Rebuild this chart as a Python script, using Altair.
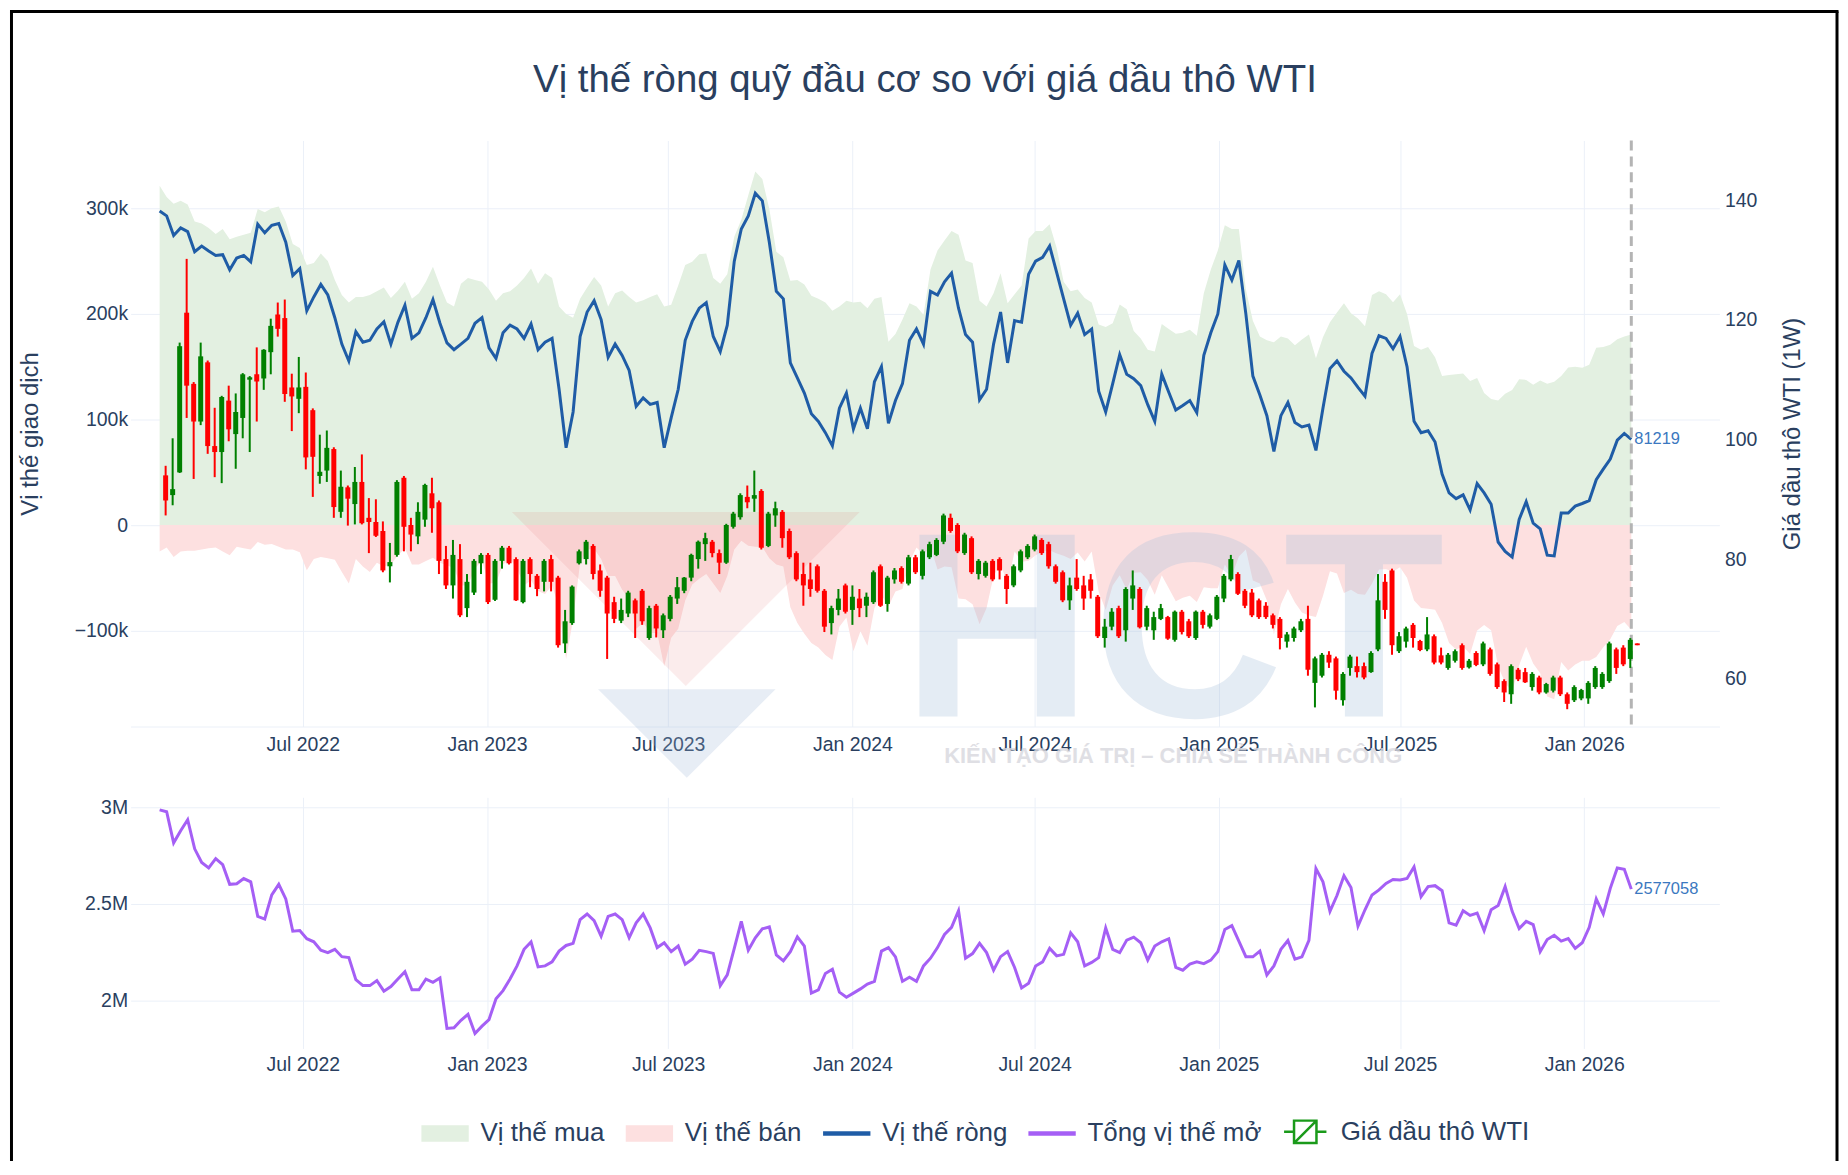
import altair as alt
import pandas as pd

# ---------------- text ----------------
TITLE = "Vị thế ròng quỹ đầu cơ so với giá dầu thô WTI"
LEFT_TITLE = "Vị thế giao dịch"
RIGHT_TITLE = "Giá dầu thô WTI (1W)"
SERIES = ["Vị thế mua", "Vị thế bán", "Vị thế ròng", "Tổng vị thế mở", "Giá dầu thô WTI"]
X_TICKS = [(2022, 7), (2023, 1), (2023, 7), (2024, 1), (2024, 7), (2025, 1), (2025, 7), (2026, 1)]
LEFT_TICKS = [-100000, 0, 100000, 200000, 300000]
RIGHT_TICKS = [60, 80, 100, 120, 140]
OI_TICKS = [2000000, 2500000, 3000000]
POS_START = "2022-02-08"      # weekly COT report dates
CANDLE_START = "2022-02-14"   # weekly candles
LAST_REPORT = "2026-02-17"

# ---------------- weekly positions (thousand contracts) ----------------
net_k = [
    297.5, 292.9, 274.3, 281.4, 277.9, 258.9, 264.3, 259.6, 255.4, 256.1,
    241.8, 252.9, 255.4, 249.3, 285.0, 276.8, 283.9, 285.7, 267.9, 236.4,
    242.9, 202.9, 216.1, 227.9, 217.9, 196.4, 171.4, 155.4, 183.2, 173.2,
    175.0, 185.7, 192.5, 171.4, 192.0, 208.2, 176.8, 182.1, 196.4, 213.6,
    191.1, 172.5, 166.1, 171.4, 176.8, 191.1, 196.4, 167.9, 157.9, 182.1,
    189.3, 185.7, 176.8, 190.4, 166.1, 173.2, 176.8, 128.6, 73.2, 107.1,
    178.6, 201.8, 212.5, 194.6, 158.9, 171.4, 160.7, 146.4, 112.5, 120.5,
    114.3, 116.1, 73.2, 101.8, 128.6, 175.0, 192.9, 205.4, 210.7, 178.6,
    164.3, 189.3, 250.0, 280.4, 292.9, 314.3, 307.1, 267.9, 221.4, 214.3,
    153.6, 139.3, 125.0, 105.4, 98.2, 87.5, 75.0, 110.7, 125.0, 91.1,
    110.7, 91.1, 135.7, 150.0, 96.4, 118.0, 133.9, 175.0, 185.7, 171.4,
    221.4, 217.9, 230.4, 238.6, 205.4, 180.4, 173.2, 118.6, 128.6, 171.4,
    201.8, 153.6, 193.6, 192.1, 237.5, 250.0, 253.6, 264.3, 239.3, 214.3,
    189.3, 200.7, 180.4, 185.7, 126.8, 107.1, 133.9, 161.4, 142.9, 138.6,
    132.0, 114.0, 98.2, 142.9, 125.7, 108.9, 113.2, 117.9, 106.4, 160.7,
    182.1, 200.0, 246.4, 232.1, 250.7, 200.0, 141.1, 123.2, 103.6, 69.6,
    103.6, 116.1, 97.1, 92.9, 94.6, 70.7, 110.7, 148.2, 155.4, 145.7,
    139.3, 130.4, 122.1, 162.5, 179.3, 176.8, 167.0, 178.6, 150.0, 98.2,
    87.5, 89.3, 78.6, 48.2, 30.4, 25.0, 28.6, 14.3, 39.3, 30.4,
    19.6, -16.1, -25.0, -30.4, 5.4, 22.1, 1.8, -3.6, -28.6, -29.3,
    11.4, 11.4, 17.9, 20.4, 23.2, 42.9, 52.9, 62.5, 80.4, 86.8,
    81.219,
]
long_k = [
    321.4, 310.7, 304.3, 307.1, 303.6, 287.5, 285.7, 281.4, 275.7, 280.4,
    270.7, 273.2, 275.0, 276.8, 299.3, 296.4, 300.0, 301.8, 287.5, 266.1,
    262.5, 246.4, 248.2, 257.1, 250.0, 232.1, 217.9, 210.7, 216.1, 216.1,
    217.9, 221.4, 225.0, 215.0, 222.0, 230.4, 214.3, 219.6, 230.4, 244.6,
    226.8, 210.7, 207.1, 228.6, 233.9, 232.1, 230.4, 223.2, 212.5, 219.6,
    221.4, 226.8, 233.9, 242.9, 228.6, 238.6, 233.9, 207.1, 200.0, 196.4,
    214.3, 225.0, 235.0, 226.8, 207.1, 219.6, 222.1, 216.1, 210.7, 213.0,
    216.1, 218.6, 207.1, 208.6, 226.8, 246.4, 249.3, 256.4, 257.1, 233.9,
    228.6, 237.5, 273.2, 289.3, 312.5, 335.0, 327.9, 299.3, 258.9, 253.6,
    231.4, 232.1, 227.9, 217.1, 214.3, 210.7, 202.9, 207.1, 212.5, 210.7,
    211.4, 205.4, 214.3, 216.1, 173.5, 181.0, 194.6, 210.0, 207.1, 199.3,
    242.1, 260.0, 269.6, 278.6, 275.0, 250.7, 248.2, 212.5, 207.1, 219.6,
    238.6, 210.0, 218.6, 226.8, 271.4, 278.6, 278.6, 285.0, 262.5, 230.4,
    221.4, 223.2, 215.0, 210.7, 190.0, 187.5, 191.1, 208.9, 204.3, 183.9,
    176.8, 166.0, 164.3, 190.4, 185.7, 181.1, 182.1, 185.0, 179.3, 219.6,
    242.1, 260.0, 283.9, 280.4, 280.4, 223.2, 193.6, 178.6, 175.0, 173.2,
    178.6, 176.8, 170.4, 175.7, 180.4, 157.9, 177.9, 192.1, 201.4, 210.0,
    200.7, 195.7, 188.2, 217.9, 221.4, 218.6, 211.0, 218.6, 200.0, 169.6,
    166.1, 168.6, 158.9, 141.1, 142.1, 142.9, 143.6, 136.4, 139.3, 125.0,
    119.3, 117.9, 124.3, 127.9, 138.2, 137.5, 132.9, 136.8, 133.9, 135.7,
    141.1, 149.3, 150.0, 148.9, 151.8, 167.9, 168.6, 170.7, 176.1, 178.6,
    180.4,
]
short_k = [
    -25.0, -21.4, -30.4, -25.0, -24.3, -24.3, -23.2, -22.1, -21.4, -25.0,
    -28.6, -20.7, -22.1, -23.2, -16.1, -18.6, -17.9, -20.7, -23.2, -23.2,
    -25.7, -42.9, -32.1, -30.4, -31.4, -32.9, -44.6, -55.4, -32.1, -39.3,
    -44.6, -35.7, -39.3, -37.5, -28.6, -22.2, -37.5, -37.5, -34.0, -31.0,
    -35.7, -38.2, -41.0, -57.2, -57.1, -41.0, -34.0, -55.3, -54.6, -37.5,
    -32.1, -41.1, -57.1, -52.5, -62.5, -65.4, -57.1, -78.5, -126.8, -89.3,
    -35.7, -23.2, -22.5, -32.2, -48.2, -48.2, -61.4, -69.7, -98.2, -92.5,
    -101.8, -102.5, -133.9, -106.8, -98.2, -71.4, -56.4, -51.0, -46.4, -55.3,
    -64.3, -48.2, -23.2, -15.0, -19.6, -20.7, -20.8, -31.4, -37.5, -39.3,
    -77.8, -92.8, -102.9, -111.7, -116.1, -123.2, -127.9, -96.4, -87.5, -119.6,
    -100.7, -114.3, -78.6, -66.1, -77.1, -63.0, -60.7, -35.0, -21.4, -27.9,
    -20.7, -42.1, -39.2, -40.0, -69.6, -70.3, -75.0, -93.9, -78.5, -48.2,
    -36.8, -56.4, -25.0, -34.7, -33.9, -28.6, -25.0, -24.0, -27.0, -29.0,
    -32.1, -26.0, -34.6, -25.0, -63.2, -80.4, -57.2, -47.5, -61.4, -45.3,
    -44.8, -52.0, -66.1, -47.5, -60.0, -72.2, -68.9, -67.1, -72.9, -58.9,
    -60.0, -60.0, -37.5, -48.3, -29.7, -23.2, -52.5, -55.4, -71.4, -103.6,
    -75.0, -60.7, -73.3, -82.8, -85.8, -87.2, -67.2, -43.9, -46.0, -64.3,
    -61.4, -65.3, -66.1, -55.4, -42.1, -41.8, -44.0, -40.0, -50.0, -71.4,
    -78.6, -79.3, -80.3, -92.9, -111.7, -117.9, -115.0, -122.1, -100.0, -94.6,
    -99.7, -134.0, -149.3, -158.3, -132.8, -115.4, -131.1, -140.4, -162.5, -165.0,
    -129.7, -137.9, -132.1, -128.5, -128.6, -125.0, -115.7, -108.2, -95.7, -91.8,
    -99.2,
]
# open interest (million contracts)
oi_m = [
    2.988, 2.978, 2.817, 2.880, 2.937, 2.786, 2.715, 2.687, 2.735, 2.704,
    2.602, 2.605, 2.632, 2.615, 2.436, 2.422, 2.547, 2.602, 2.526, 2.359,
    2.362, 2.320, 2.304, 2.260, 2.248, 2.265, 2.227, 2.222, 2.108, 2.077,
    2.077, 2.103, 2.048, 2.072, 2.111, 2.149, 2.055, 2.055, 2.111, 2.094,
    2.116, 1.855, 1.858, 1.897, 1.928, 1.829, 1.867, 1.901, 2.009, 2.051,
    2.111, 2.179, 2.265, 2.303, 2.174, 2.179, 2.200, 2.256, 2.285, 2.296,
    2.419, 2.448, 2.414, 2.333, 2.436, 2.448, 2.419, 2.325, 2.402, 2.448,
    2.376, 2.274, 2.299, 2.253, 2.282, 2.188, 2.214, 2.260, 2.253, 2.244,
    2.077, 2.133, 2.270, 2.410, 2.260, 2.325, 2.371, 2.381, 2.236, 2.205,
    2.253, 2.330, 2.282, 2.038, 2.055, 2.140, 2.162, 2.043, 2.017, 2.038,
    2.060, 2.085, 2.099, 2.256, 2.274, 2.226, 2.099, 2.120, 2.099, 2.179,
    2.219, 2.274, 2.342, 2.379, 2.465, 2.219, 2.243, 2.296, 2.248, 2.157,
    2.227, 2.253, 2.171, 2.065, 2.089, 2.179, 2.200, 2.270, 2.231, 2.239,
    2.350, 2.304, 2.179, 2.197, 2.222, 2.376, 2.265, 2.248, 2.313, 2.328,
    2.299, 2.209, 2.282, 2.304, 2.320, 2.171, 2.157, 2.188, 2.200, 2.191,
    2.209, 2.253, 2.368, 2.388, 2.308, 2.227, 2.226, 2.256, 2.132, 2.179,
    2.265, 2.311, 2.214, 2.226, 2.311, 2.684, 2.615, 2.462, 2.544, 2.646,
    2.585, 2.385, 2.470, 2.547, 2.573, 2.607, 2.627, 2.624, 2.632, 2.692,
    2.538, 2.590, 2.595, 2.569, 2.402, 2.390, 2.465, 2.441, 2.453, 2.362,
    2.470, 2.492, 2.590, 2.462, 2.373, 2.410, 2.393, 2.253, 2.316, 2.338,
    2.308, 2.321, 2.270, 2.299, 2.379, 2.526, 2.448, 2.581, 2.687, 2.680,
    2.577058,
]

# ---------------- weekly WTI candles (USD) ----------------
c_open = [
    94.0, 90.7, 94.5, 121.2, 109.3, 103.0, 112.9, 98.9, 97.9, 106.5,
    100.9, 103.6, 110.0, 110.9, 110.2, 114.6, 120.9, 120.3, 108.7, 106.8,
    108.8, 104.9, 93.9, 94.8, 98.4, 87.9, 92.0, 89.2, 92.9, 86.9,
    86.2, 84.7, 78.8, 80.7, 93.6, 85.7, 83.8, 86.6, 91.0, 89.5,
    80.0, 75.6, 80.0, 71.8, 74.4, 79.3, 80.7, 73.2, 79.7, 81.9,
    80.0, 72.8, 80.0, 77.2, 76.2, 80.0, 76.9, 65.9, 69.3, 79.3,
    80.0, 82.2, 78.1, 76.9, 72.8, 69.7, 70.9, 73.1, 74.7, 66.8,
    72.2, 68.1, 70.0, 73.4, 74.7, 76.9, 80.0, 82.5, 82.9, 81.0,
    79.4, 85.4, 87.0, 90.4, 90.1, 91.4, 82.2, 87.3, 87.9, 84.7,
    81.0, 77.5, 76.6, 78.8, 74.7, 69.3, 71.5, 75.6, 71.5, 73.4,
    72.2, 72.8, 78.8, 72.5, 76.6, 78.5, 75.9, 80.3, 77.2, 80.3,
    80.7, 82.9, 86.9, 85.7, 81.0, 83.5, 77.5, 77.2, 79.7, 80.0,
    77.2, 75.6, 78.1, 80.3, 81.6, 83.2, 82.5, 78.8, 77.8, 73.1,
    76.9, 75.6, 76.6, 73.7, 66.8, 68.7, 71.8, 68.1, 73.4, 75.0,
    68.7, 68.1, 70.0, 70.3, 66.5, 71.2, 69.6, 66.8, 71.2, 68.7,
    70.0, 73.4, 76.6, 77.5, 74.7, 74.4, 73.1, 72.2, 70.6, 70.0,
    66.2, 66.8, 68.1, 70.0, 59.3, 60.5, 64.0, 63.4, 56.4, 61.8,
    62.1, 62.1, 61.1, 64.9, 76.2, 78.1, 64.6, 66.2, 69.0, 66.3,
    64.9, 67.1, 63.9, 61.8, 63.0, 65.6, 61.9, 64.3, 62.4, 64.9,
    62.4, 59.6, 57.4, 61.5, 61.1, 58.6, 60.2, 57.7, 58.0, 60.2,
    57.4, 56.4, 56.7, 56.7, 58.6, 58.6, 59.6, 64.9, 65.2, 63.3,
    65.9,
]
c_high = [
    95.6, 100.2, 116.2, 130.2, 109.6, 116.2, 113.2, 105.3, 107.3, 109.0,
    107.7, 111.1, 110.6, 115.4, 115.1, 120.2, 122.9, 123.4, 111.0, 113.8,
    111.2, 105.2, 100.8, 101.5, 98.7, 94.8, 92.3, 95.4, 97.5, 90.2,
    90.0, 86.3, 82.7, 93.2, 93.9, 86.9, 89.5, 92.6, 93.6, 89.8,
    82.2, 83.2, 82.5, 77.5, 80.0, 81.0, 81.0, 80.0, 82.2, 82.2,
    80.3, 80.0, 80.3, 77.5, 80.0, 80.7, 77.2, 71.5, 75.6, 81.6,
    83.2, 82.5, 79.1, 77.2, 73.7, 73.4, 74.7, 73.4, 75.0, 72.2,
    72.5, 70.9, 74.0, 77.0, 77.0, 80.9, 83.1, 84.4, 83.2, 81.6,
    85.9, 87.9, 91.0, 92.3, 94.8, 91.7, 87.9, 89.6, 88.2, 85.1,
    81.3, 79.4, 79.4, 79.1, 75.0, 72.2, 75.0, 75.9, 75.6, 75.0,
    74.4, 78.1, 79.1, 77.2, 78.5, 78.8, 80.7, 80.7, 81.6, 82.9,
    83.5, 87.6, 87.6, 86.0, 84.4, 83.8, 80.0, 79.7, 80.0, 80.3,
    77.5, 79.1, 81.6, 82.5, 84.1, 83.5, 82.9, 79.1, 78.1, 76.9,
    80.0, 77.2, 77.5, 74.0, 70.0, 71.8, 72.2, 75.3, 78.1, 75.3,
    72.2, 71.2, 72.5, 70.5, 71.4, 71.5, 70.0, 71.4, 71.5, 70.9,
    74.0, 77.5, 80.7, 77.8, 75.0, 75.0, 73.4, 72.8, 70.9, 70.3,
    67.8, 68.7, 70.0, 72.2, 63.7, 64.3, 64.6, 63.7, 61.1, 64.0,
    63.7, 62.7, 64.6, 77.5, 77.5, 78.4, 67.8, 68.7, 69.3, 66.5,
    70.3, 67.4, 65.2, 64.3, 64.9, 65.9, 63.3, 64.6, 66.2, 65.2,
    62.7, 59.9, 62.4, 61.8, 61.8, 61.1, 60.5, 59.3, 60.5, 60.5,
    57.7, 58.9, 58.3, 59.6, 62.1, 61.1, 66.2, 65.2, 65.6, 66.8,
    65.9,
]
c_low = [
    87.3, 89.0, 94.4, 103.6, 93.4, 102.4, 97.6, 93.7, 92.7, 99.7,
    95.1, 100.2, 97.9, 103.0, 108.3, 110.9, 117.2, 106.3, 101.4, 104.4,
    95.0, 90.4, 92.6, 92.9, 86.9, 86.9, 85.6, 85.8, 85.8, 81.0,
    83.7, 77.8, 76.1, 80.4, 81.3, 81.3, 82.5, 85.4, 84.4, 77.5,
    75.0, 73.4, 70.3, 70.3, 74.0, 77.5, 72.5, 73.0, 78.4, 79.1,
    73.0, 72.6, 75.3, 73.8, 74.6, 74.6, 65.2, 64.3, 69.0, 79.1,
    79.1, 76.6, 73.7, 63.3, 69.3, 69.3, 70.3, 66.8, 69.0, 66.5,
    66.9, 66.8, 69.6, 72.5, 74.3, 76.3, 78.4, 79.7, 80.3, 77.5,
    79.2, 85.1, 86.6, 88.5, 87.9, 81.6, 82.0, 85.4, 81.9, 80.0,
    76.3, 72.2, 73.7, 74.4, 67.8, 67.4, 70.6, 70.9, 69.0, 70.3,
    70.3, 72.5, 72.0, 71.2, 75.9, 75.9, 75.6, 77.5, 76.6, 80.0,
    80.5, 82.5, 84.4, 81.0, 80.7, 77.5, 76.6, 76.9, 76.3, 76.6,
    72.5, 75.3, 77.8, 80.0, 81.3, 80.7, 78.4, 75.9, 72.8, 71.5,
    74.7, 71.5, 73.4, 66.8, 65.2, 68.1, 66.8, 66.2, 71.5, 68.4,
    68.1, 66.5, 69.8, 66.5, 66.2, 67.4, 66.8, 66.5, 68.4, 68.4,
    69.8, 72.8, 76.3, 74.0, 71.8, 70.3, 70.0, 70.0, 68.4, 64.9,
    65.2, 66.2, 67.8, 60.5, 55.2, 60.2, 61.8, 56.5, 55.5, 60.5,
    60.2, 59.9, 61.0, 64.6, 70.0, 64.0, 64.3, 65.2, 65.2, 64.6,
    64.6, 62.4, 62.4, 61.5, 62.7, 61.5, 61.7, 62.1, 62.1, 60.5,
    58.3, 56.1, 55.8, 59.6, 59.3, 58.0, 57.4, 57.5, 57.7, 57.1,
    54.9, 56.1, 56.4, 55.8, 58.3, 58.3, 59.3, 60.8, 62.1, 61.8,
    65.6,
]
c_close = [
    89.8, 91.7, 115.6, 109.0, 103.0, 113.9, 98.9, 97.9, 107.1, 101.7,
    104.6, 110.9, 110.4, 109.7, 115.0, 119.0, 118.5, 107.6, 107.2, 108.7,
    97.0, 97.1, 94.6, 98.6, 88.7, 92.1, 90.1, 92.9, 86.0, 86.2,
    83.9, 78.1, 79.5, 92.9, 85.4, 84.1, 87.9, 92.4, 88.5, 79.7,
    75.6, 80.7, 70.6, 76.2, 79.7, 80.7, 72.8, 79.7, 81.9, 79.3,
    73.1, 79.7, 77.5, 75.0, 79.7, 76.2, 65.6, 69.6, 75.4, 81.3,
    82.9, 77.5, 74.7, 70.9, 70.0, 71.5, 74.4, 70.9, 69.6, 71.8,
    68.4, 70.6, 73.7, 75.3, 76.9, 80.7, 82.9, 83.5, 81.0, 79.4,
    85.7, 87.6, 90.7, 89.5, 90.7, 81.9, 87.6, 88.5, 83.5, 80.3,
    76.6, 75.6, 75.0, 74.7, 68.7, 71.8, 73.4, 71.2, 73.7, 71.8,
    73.7, 77.8, 72.2, 76.9, 78.1, 76.2, 80.3, 77.8, 81.3, 82.5,
    83.2, 87.3, 84.7, 81.3, 84.1, 77.8, 79.7, 79.4, 76.6, 78.1,
    75.0, 78.8, 81.3, 82.2, 83.8, 81.0, 78.8, 76.2, 73.1, 75.6,
    75.0, 73.4, 74.7, 67.1, 68.7, 71.2, 67.1, 75.0, 75.6, 68.6,
    71.8, 70.3, 71.8, 66.7, 71.2, 67.8, 67.1, 71.2, 69.0, 70.6,
    73.7, 77.2, 80.0, 74.2, 72.2, 70.6, 70.3, 70.3, 69.0, 66.8,
    67.4, 68.4, 69.6, 61.5, 63.4, 64.0, 62.7, 58.0, 60.8, 63.7,
    61.1, 60.2, 64.3, 73.1, 71.5, 65.6, 67.1, 68.4, 66.8, 64.8,
    67.4, 62.7, 62.7, 64.0, 64.6, 61.8, 63.0, 62.3, 65.9, 60.8,
    58.6, 57.7, 62.1, 59.9, 59.4, 60.8, 57.7, 59.1, 60.2, 57.4,
    55.8, 58.6, 58.1, 59.3, 61.8, 60.8, 65.9, 61.8, 62.4, 66.5,
    65.6,
]

# ---------------- styling ----------------
FONT = "Liberation Sans, Arial, sans-serif"
TXT = "#2a3f5f"
GRID = "#ebf0f8"
LONG_FILL = "#e3f0e1"
SHORT_FILL = "#fde0e0"
NET_COL = "#1f5ca6"
OI_COL = "#a55ff5"
LABEL_COL = "#3b78c0"
UP = "#008000"
DOWN = "#ff0000"
W = 1594
H_TOP = 588
H_BOT = 252

# ---------------- tables ----------------
n = min(len(net_k), len(long_k), len(short_k), len(oi_m))
pos = pd.DataFrame({
    "date": pd.date_range(POS_START, periods=n, freq="7D"),
    "long": [round(v * 1000) for v in long_k[:n]],
    "short": [round(v * 1000) for v in short_k[:n]],
    "net": [round(v * 1000) for v in net_k[:n]],
    "oi": [round(v * 1e6) for v in oi_m[:n]],
})
pos["net_lbl"] = pos["net"].astype(str)
pos["oi_lbl"] = pos["oi"].astype(str)
last = pos.tail(1)

m = min(len(c_open), len(c_high), len(c_low), len(c_close))
cdl = pd.DataFrame({
    "date": pd.date_range(CANDLE_START, periods=m, freq="7D"),
    "open": c_open[:m], "high": c_high[:m], "low": c_low[:m], "close": c_close[:m],
})
cdl["dir"] = ["up" if c >= o else "down" for o, c in zip(cdl["open"], cdl["close"])]

# ---------------- scales / axes ----------------
x_scale = alt.Scale(domain=[alt.DateTime(year=2022, month=1, date=10),
                            alt.DateTime(year=2026, month=5, date=16)], padding=0)


def x_axis(pad, dom):
    return alt.Axis(values=[alt.DateTime(year=y, month=mo, date=1) for y, mo in X_TICKS],
                    format="%b %Y", title=None, grid=True, gridColor=GRID, ticks=False,
                    labelPadding=pad, domain=dom, domainColor=GRID, labelFontSize=19.5)


X_TOP = alt.X("date:T", scale=x_scale, axis=x_axis(9, True))
X_BOT = alt.X("date:T", scale=x_scale, axis=x_axis(7, False))
SI_LABEL = "datum.value == 0 ? '0' : format(datum.value, '~s')"
yl_scale = alt.Scale(domain=[-190900, 364300], nice=False, zero=False)
yl_axis = alt.Axis(values=LEFT_TICKS, labelExpr=SI_LABEL, title=LEFT_TITLE, grid=True,
                   gridColor=GRID, ticks=False, domain=False, labelPadding=3, titlePadding=32)
yr_scale = alt.Scale(domain=[52, 150], nice=False, zero=False)
yr_axis = alt.Axis(values=RIGHT_TICKS, orient="right", title=RIGHT_TITLE, grid=False, ticks=False,
                   domain=False, labelPadding=5, titlePadding=24, titleAngle=270, titleBaseline="top")
oi_scale = alt.Scale(domain=[1751000, 3053000], nice=False, zero=False)
oi_axis = alt.Axis(values=OI_TICKS, labelExpr=SI_LABEL, title=None, grid=True, gridColor=GRID,
                   ticks=False, domain=False, labelPadding=3)

# ---------------- top panel ----------------
base = alt.Chart(pos)
area_long = base.mark_area(color=LONG_FILL, opacity=1).encode(
    x=X_TOP, y=alt.Y("long:Q", scale=yl_scale, axis=yl_axis), y2=alt.datum(0))
area_short = base.mark_area(color=SHORT_FILL, opacity=1).encode(
    x=X_TOP, y=alt.Y("short:Q", scale=yl_scale, axis=yl_axis), y2=alt.datum(0))

one = pd.DataFrame({"a": [0]})
wm_tri = alt.Chart(one).mark_point(shape="M-1,-0.5L1,-0.5L0,0.5Z", size=121801, filled=True,
                                   color="#e07070", opacity=0.13, strokeWidth=0, clip=False).encode(
    x=alt.value(557), y=alt.value(460))
wm_tri2 = alt.Chart(one).mark_point(shape="M-1,-0.5L1,-0.5L0,0.5Z", size=31684, filled=True,
                                    color="#9fb9d9", opacity=0.25, strokeWidth=0, clip=False).encode(
    x=alt.value(558), y=alt.value(595))
wm_hct = alt.Chart(one).mark_text(text="HCT", fontSize=265, fontWeight="bold", font=FONT,
                                  color="#a9c1dc", opacity=0.3, align="center",
                                  baseline="alphabetic", clip=False).encode(
    x=alt.value(1046), y=alt.value(578))
wm_tag = alt.Chart(one).mark_text(text="KIẾN TẠO GIÁ TRỊ – CHIA SẺ THÀNH CÔNG", fontSize=22,
                                  fontWeight="bold", font=FONT, color="#d8d8de", opacity=0.8,
                                  align="center", baseline="middle", clip=False).encode(
    x=alt.value(1046), y=alt.value(618))

# chart title, centred over the plot area
title_txt = alt.Chart(one).mark_text(text=TITLE, fontSize=38.5, font=FONT, color=TXT,
                                     align="center", baseline="alphabetic", clip=False).encode(
    x=alt.value(W / 2), y=alt.value(-49))

# frame of the screenshot (left, top, right edges)
frame_l = alt.Chart(one).mark_rule(color="black", strokeWidth=3).encode(
    x=alt.value(-119.5), y=alt.value(-129.5), y2=alt.value(1024))
frame_t = alt.Chart(one).mark_rule(color="black", strokeWidth=3).encode(
    x=alt.value(-121), x2=alt.value(1713.5), y=alt.value(-129.5))
frame_r = alt.Chart(one).mark_rule(color="black", strokeWidth=3).encode(
    x=alt.value(1712), y=alt.value(-129.5), y2=alt.value(1024))

net_line = base.mark_line(color=NET_COL, strokeWidth=3).encode(
    x=X_TOP, y=alt.Y("net:Q", scale=yl_scale, axis=yl_axis))
net_lbl = alt.Chart(last).mark_text(align="left", baseline="middle", dx=3, fontSize=16.5,
                                    color=LABEL_COL, font=FONT).encode(
    x=X_TOP, y=alt.Y("net:Q", scale=yl_scale, axis=yl_axis), text="net_lbl:N")
vline = alt.Chart(pd.DataFrame({"date": [pd.Timestamp(LAST_REPORT)]})).mark_rule(
    color="#b4b4b4", strokeWidth=3, strokeDash=[10, 6]).encode(x=X_TOP)

left_layer = alt.layer(area_long, area_short, wm_tri, wm_tri2, wm_hct, wm_tag,
                       net_line, net_lbl, vline, title_txt, frame_l, frame_t, frame_r)

dir_color = alt.Color("dir:N", scale=alt.Scale(domain=["up", "down"], range=[UP, DOWN]), legend=None)
wick = alt.Chart(cdl).mark_rule(strokeWidth=2).encode(
    x=X_TOP, y=alt.Y("low:Q", scale=yr_scale, axis=yr_axis), y2="high:Q", color=dir_color)
body = alt.Chart(cdl).mark_bar(size=5).encode(
    x=X_TOP, y=alt.Y("open:Q", scale=yr_scale, axis=yr_axis), y2="close:Q", color=dir_color)
right_layer = alt.layer(wick, body)

top = alt.layer(left_layer, right_layer).resolve_scale(y="independent").properties(
    width=W, height=H_TOP)

# ---------------- bottom panel ----------------
oi_line = base.mark_line(color=OI_COL, strokeWidth=3).encode(
    x=X_BOT, y=alt.Y("oi:Q", scale=oi_scale, axis=oi_axis))
oi_lbl = alt.Chart(last).mark_text(align="left", baseline="middle", dx=3, fontSize=16.5,
                                   color=LABEL_COL, font=FONT).encode(
    x=X_BOT, y=alt.Y("oi:Q", scale=oi_scale, axis=oi_axis), text="oi_lbl:N")

# legend (entries drawn by the legend itself; the carrier points sit outside the x domain)
SW = "M-0.9,-0.28H0.9V0.28H-0.9Z"
LN = "M-0.9,-0.04H0.9V0.04H-0.9Z"
CD = "M-0.45,-0.45H0.45V0.45H-0.45Z M-0.45,0.45L0.45,-0.45 M-0.85,0H-0.45 M0.45,0H0.85"
leg = alt.Legend(orient="none", legendX=289, legendY=968, direction="horizontal", title=None,
                 labelFontSize=26, labelColor=TXT, labelFont=FONT, symbolSize=2500,
                 symbolStrokeWidth=2.5, labelOffset=9, columnPadding=17, padding=0,
                 labelLimit=500)
legend_src = pd.DataFrame({"name": SERIES, "date": [pd.Timestamp("2021-06-01")] * 5,
                           "v": [2500000] * 5})
legend_pts = alt.Chart(legend_src).mark_point(filled=True, opacity=1, clip=True).encode(
    x=X_BOT, y=alt.Y("v:Q", scale=oi_scale, axis=oi_axis),
    fill=alt.Fill("name:N", scale=alt.Scale(domain=SERIES,
                  range=[LONG_FILL, SHORT_FILL, NET_COL, OI_COL, "transparent"]), legend=leg),
    stroke=alt.Stroke("name:N", scale=alt.Scale(domain=SERIES,
                      range=[LONG_FILL, SHORT_FILL, NET_COL, OI_COL, "#1a9a1a"]), legend=leg),
    shape=alt.Shape("name:N", scale=alt.Scale(domain=SERIES, range=[SW, SW, LN, LN, CD]), legend=leg),
)

bottom = alt.layer(oi_line, oi_lbl, legend_pts).properties(width=W, height=H_BOT)

chart = alt.vconcat(top, bottom, spacing=71, bounds="flush").properties(
    padding={"left": 0, "top": 0, "right": 0, "bottom": 0},
    background="white",
).configure_view(stroke=None).configure_axis(
    labelFont=FONT, titleFont=FONT, labelColor=TXT, titleColor=TXT, labelFontSize=19.5,
    titleFontSize=24, titleFontWeight="normal",
)

chart.save("out.html", embed_options={"renderer": "svg", "actions": False})
